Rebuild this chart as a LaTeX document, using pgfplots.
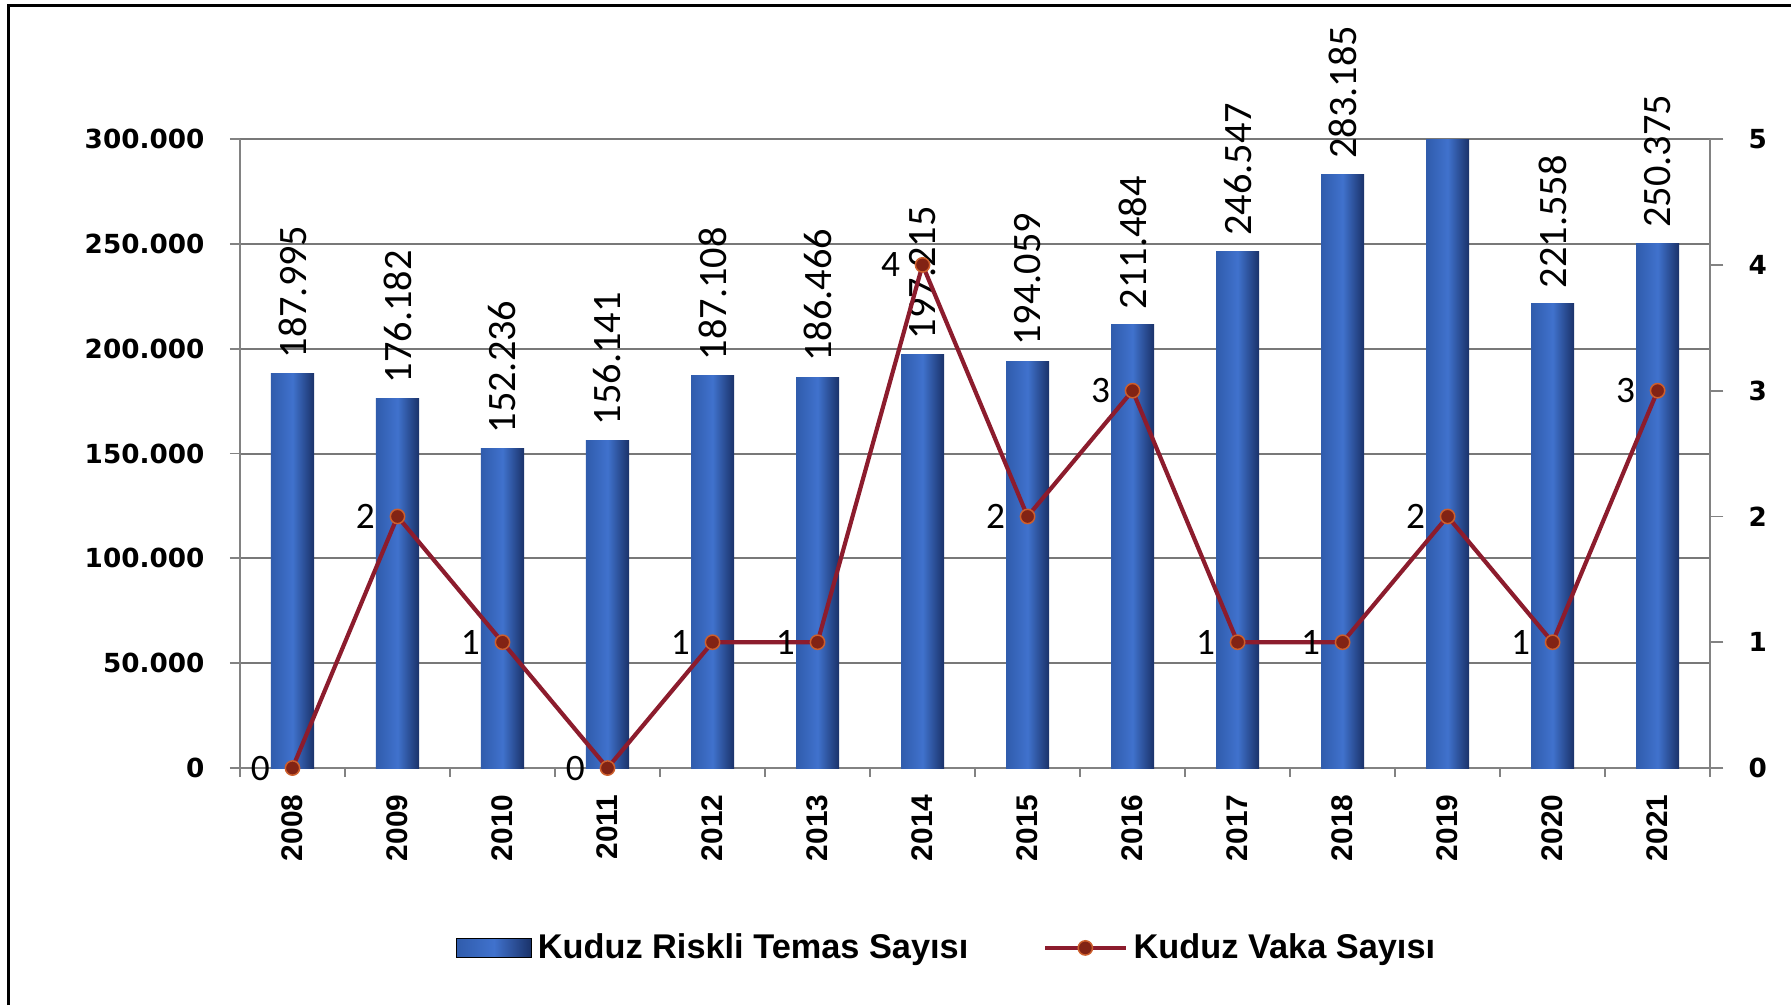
\documentclass[border=0pt]{standalone}
\usepackage{fontspec}
\setmainfont{Carlito}
\newfontfamily\dvfont{DejaVu Sans}
\newfontfamily\lsfont{Liberation Sans}
\usepackage{pgfplots}
\pgfplotsset{compat=1.18}
\usepackage{pgfplotstable}

\definecolor{barL}{RGB}{48,92,172}
\definecolor{barM}{RGB}{64,114,205}
\definecolor{barR}{RGB}{26,50,105}
\definecolor{lineRed}{RGB}{140,28,45}
\definecolor{markFill}{RGB}{130,35,20}
\definecolor{markEdge}{RGB}{205,95,45}
\definecolor{axgray}{RGB}{130,130,130}
\definecolor{gridgray}{RGB}{120,120,120}

\pgfplotsset{mylineleg/.style={legend image code/.code={\draw[mark repeat=2,mark phase=2,##1] plot coordinates {(0pt,0pt)(13.5pt,0pt)(27pt,0pt)};}}}

\pgfplotstableread{
x val lab
0 187995 187.995
1 176182 176.182
2 152236 152.236
3 156141 156.141
4 187108 187.108
5 186466 186.466
6 197215 197.215
7 194059 194.059
8 211484 211.484
9 246547 246.547
10 283185 283.185
11 300000 {}
12 221558 221.558
13 250375 250.375
}\bartable

\pgfplotstableread{
x v
0 0
1 2
2 1
3 0
4 1
5 1
6 4
7 2
8 3
9 1
10 1
11 2
12 1
13 3
}\linetable

\begin{document}
\begin{tikzpicture}
\useasboundingbox (0,0) rectangle (600pt,336.7pt);
\draw[line width=1pt] (3pt,0) -- (3pt,335pt) -- (600pt,335pt);

\begin{axis}[
  at={(80.4pt,79.4pt)}, anchor=south west,
  scale only axis, width=492.5pt, height=210.7pt,
  xmin=-0.5, xmax=13.5, ymin=0, ymax=300000,
  axis x line*=bottom, axis y line*=left,
  axis line style={draw=axgray, line width=0.6pt},
  ytick={0,50000,100000,150000,200000,250000,300000},
  scaled y ticks=false,
  /pgf/number format/fixed,
  /pgf/number format/1000 sep={.},
  /pgf/number format/assume math mode=true,
  yticklabel style={font=\dvfont\bfseries\fontsize{8.8}{10}\selectfont},
  yticklabel shift=5pt,
  ymajorgrids, grid style={draw=gridgray, line width=0.7pt},
  xtick={0,...,13},
  xticklabels={2008,2009,2010,2011,2012,2013,2014,2015,2016,2017,2018,2019,2020,2021},
  xticklabel style={rotate=90, anchor=east, font=\lsfont\bfseries\fontsize{10}{12}\selectfont},
  xticklabel shift=2pt,
  major x tick style={draw=none},
  minor xtick={-0.5,0.5,...,13.5},
  tick align=outside,
  major tick length=3.4pt, minor tick length=3pt,
  tick style={draw=axgray, line width=0.6pt},
  clip=false,
]
\pgfplotsinvokeforeach{0,...,13}{
\addplot[ybar, bar width=0.41, bar shift=0pt, draw=none, left color=barL, right color=barR, middle color=barM,
  restrict x to domain=#1:#1,
  nodes near coords, point meta=explicit symbolic,
  every node near coord/.append style={rotate=90, anchor=west, inner xsep=5pt, text=black,
    font=\fontsize{13.5}{15}\selectfont}]
  table[x=x, y=val, meta=lab]{\bartable};
}
\end{axis}

\begin{axis}[
  at={(80.4pt,79.4pt)}, anchor=south west,
  scale only axis, width=492.5pt, height=210.7pt,
  xmin=-0.5, xmax=13.5, ymin=0, ymax=5,
  axis x line=none, axis y line*=right,
  axis line style={draw=axgray, line width=0.6pt},
  ytick={0,1,2,3,4,5},
  /pgf/number format/assume math mode=true,
  yticklabel style={font=\dvfont\bfseries\fontsize{8.8}{10}\selectfont},
  yticklabel shift=5pt,
  tick align=outside, major tick length=4.4pt,
  tick style={draw=axgray, line width=0.6pt},
  clip=false,
  legend columns=2,
  legend cell align=left,
  legend style={at={(0.482,-0.286)}, anchor=center, draw=none, fill=none,
    font=\lsfont\bfseries\fontsize{11.5}{13}\selectfont,
    /tikz/every even column/.append style={column sep=23pt}},
]
\addlegendimage{legend image code/.code={\shade[left color=barL,right color=barR,middle color=barM] (0pt,-3.2pt) rectangle (25pt,3.2pt);}}
\addlegendentry{Kuduz Riskli Temas Sayısı}
\addplot[color=lineRed, line width=1.4pt, mark=*, mark size=2.4pt,
  mark options={fill=markFill, draw=markEdge, line width=0.5pt},
  mylineleg,
  nodes near coords, point meta=explicit symbolic,
  every node near coord/.append style={anchor=east, xshift=-4pt, text=black,
    font=\fontsize{12.5}{14}\selectfont}]
  table[x=x, y=v, meta=v]{\linetable};
\addlegendentry{Kuduz Vaka Sayısı}
\end{axis}
\end{tikzpicture}
\end{document}
